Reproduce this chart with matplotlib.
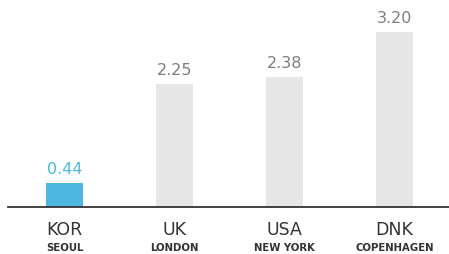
import matplotlib
matplotlib.use("Agg")
import matplotlib.pyplot as plt

# Values
codes = ["KOR", "UK", "USA", "DNK"]
cities = ["SEOUL", "LONDON", "NEW YORK", "COPENHAGEN"]
values = [0.44, 2.25, 2.38, 3.20]
highlight = "KOR"

BLUE = "#4cb8e1"
GREY_BAR = "#e6e6e6"
GREY_TXT = "#7d7d7d"
DARK = "#333333"

fig = plt.figure(figsize=(4.49, 2.54), dpi=100)
ax = fig.add_axes([8 / 449, 47 / 254, 441 / 449, 207 / 254])

x = list(range(len(codes)))
colors = [BLUE if c == highlight else GREY_BAR for c in codes]
ax.bar(x, values, width=0.34, color=colors)

for xi, v, c in zip(x, values, codes):
    ax.annotate(f"{v:.2f}", (xi, v), xytext=(0, 4), textcoords="offset points",
                ha="center", va="bottom", fontsize=11.5,
                color=BLUE if c == highlight else GREY_TXT)

ax.set_xlim(-0.514, 3.495)
ax.set_ylim(0, 3.785)
ax.set_yticks([])
ax.set_xticks([])
for s in ["top", "right", "left"]:
    ax.spines[s].set_visible(False)
ax.spines["bottom"].set_color(DARK)
ax.spines["bottom"].set_linewidth(1.3)

for xi, code, city in zip(x, codes, cities):
    ax.annotate(code, (xi, 0), xytext=(0, -10), textcoords="offset points",
                ha="center", va="top", fontsize=12.5, color=DARK)
    ax.annotate(city, (xi, 0), xytext=(0, -26), textcoords="offset points",
                ha="center", va="top", fontsize=7.3, fontweight="bold", color=DARK)

fig.savefig("out.png", dpi=100)
